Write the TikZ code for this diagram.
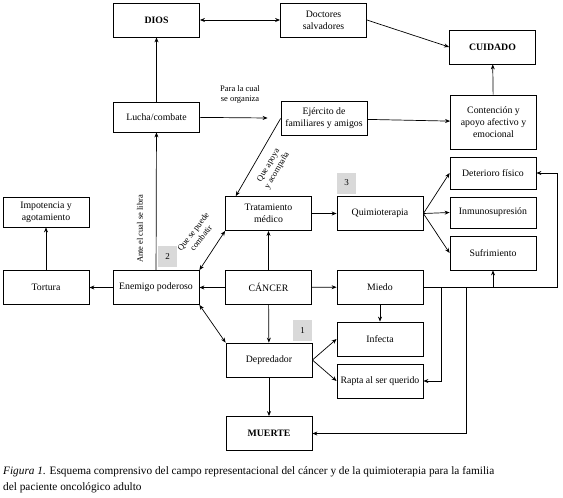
\documentclass[tikz,border=0pt]{standalone}
\usepackage{fontspec}
\setmainfont{Liberation Serif}
\usetikzlibrary{arrows.meta,positioning,calc}

\begin{document}
\begin{tikzpicture}[x=1pt,y=-1pt,
    >={Stealth[length=5pt,width=4pt]},
    box/.style={draw,line width=0.8pt,minimum width=86pt,minimum height=34pt,
        align=center,inner sep=2pt,font=\fontsize{9.8}{12}\selectfont},
    keybox/.style={box,font=\fontsize{9.8}{12}\selectfont\bfseries},
    lbl/.style={align=center,inner sep=1pt,font=\fontsize{8.5}{10}\selectfont},
    tag/.style={fill=black!15,minimum width=19pt,minimum height=21pt,
        inner sep=0pt,font=\fontsize{9}{10}\selectfont},
    link/.style={->,line width=0.7pt}]
    \useasboundingbox (0,0) rectangle (563,498);

    % top: god, doctors, care
    \node[keybox] (dios) at (156.5,20) {DIOS};
    \node[box] (doctores) at (323.5,20) {Doctores\\salvadores};
    \node[keybox] (cuidado) at (492.5,47) {CUIDADO};

    % fight and family army
    \node[box,minimum height=30pt] (lucha) at (156.5,117) {Lucha/combate};
    \node[box] (ejercito) at (324,118.5) {Ejército de\\familiares y amigos};
    \node[box,minimum height=54pt] (contencion) at (493.5,122) {Contención y\\apoyo afectivo y\\emocional};

    % left column
    \node[box,minimum height=30pt] (impotencia) at (46,212) {Impotencia y\\agotamiento};
    \node[box] (tortura) at (46,287.5) {Tortura};
    \node[box] (enemigo) at (156,287.5) {Enemigo poderoso};

    % centre: cancer and treatment
    \node[box] (cancer) at (268.5,287.5) {CÁNCER};
    \node[box] (tratamiento) at (268.5,213.5) {Tratamiento\\médico};
    \node[box] (quimio) at (380,213.5) {Quimioterapia};
    \node[box] (miedo) at (380,287) {Miedo};

    % effects of chemotherapy
    \node[box,minimum height=32pt] (deterioro) at (493,173) {Deterioro físico};
    \node[box,minimum height=31pt] (inmuno) at (493,212.5) {Inmunosupresión};
    \node[box] (sufrimiento) at (493,253) {Sufrimiento};

    % predator and death
    \node[box] (depredador) at (269,360) {Depredador};
    \node[keybox] (muerte) at (269,433.5) {MUERTE};
    \node[box] (infecta) at (380,339) {Infecta};
    \node[box] (rapta) at (380,381) {Rapta al ser querido};

    % numbered tags
    \node[tag] (tag1) at (302.5,330.5) {1};
    \node[tag] (tag2) at (167.5,256.5) {2};
    \node[tag] (tag3) at (346.5,183) {3};

    % connectors, top part
    \draw[link,<->] (dios) -- (doctores);
    \draw[link] (doctores.east) -- (cuidado.west);
    \draw[link] (lucha) -- (dios);
    \draw[link,shorten >=13pt] (lucha) -- (ejercito);
    \node[lbl] (organiza) at (240,94) {Para la cual\\se organiza};
    \draw[link] (ejercito) -- (contencion);
    \draw[link] (contencion) -- (cuidado);
    \draw[link] (ejercito.west) -- (tratamiento.152);
    \node[lbl,rotate=59.5] (apoya) at (273,168) {Que apoya\\y acompaña};

    % connectors, enemy side
    \draw[link] (enemigo) -- (lucha);
    \node[lbl,rotate=90] (libra) at (140,229) {Ante el cual se libra};
    \draw[link,<->] (enemigo.north east) -- (tratamiento.south west);
    \node[lbl,rotate=52] (combatir) at (197,235) {Que se puede\\combatir};
    \draw[link] (cancer) -- (enemigo);
    \draw[link] (enemigo) -- (tortura);
    \draw[link] (tortura) -- (impotencia);
    \draw[link,<->] (enemigo.south east) -- (depredador.north west);

    % connectors, cancer and chemotherapy
    \draw[link] (cancer) -- (tratamiento);
    \draw[link] (tratamiento) -- (quimio);
    \draw[link] (quimio.east) -- (deterioro.west);
    \draw[link] (quimio.east) -- (inmuno.west);
    \draw[link] (quimio.east) -- (sufrimiento.west);
    \draw[link] (cancer) -- (miedo);
    \draw[link] (cancer) -- (depredador);

    % connectors, predator
    \draw[link] (depredador.east) -- (infecta.west);
    \draw[link] (depredador.east) -- (rapta.west);
    \draw[link] (depredador) -- (muerte);
    \draw[link] (miedo) -- (infecta);

    % fear rail
    \coordinate (rail) at (557,287);
    \coordinate (j1) at (441,287);
    \coordinate (j2) at (466,287);
    \draw[link] (miedo.east) -- (rail) |- (deterioro.east);
    \draw[link] (j1) |- (rapta.east);
    \draw[link] (j2) |- (muerte.east);
    \draw[link] (sufrimiento.south |- miedo.east) -- (sufrimiento.south);

    % caption
    \node[anchor=north west,align=left,inner sep=0pt,
        font=\fontsize{11.3}{16}\selectfont] (caption) at (3,466)
        {\textit{Figura 1.} Esquema comprensivo del campo representacional del cáncer y de la quimioterapia para la familia\\
        del paciente oncológico adulto};
\end{tikzpicture}
\end{document}
